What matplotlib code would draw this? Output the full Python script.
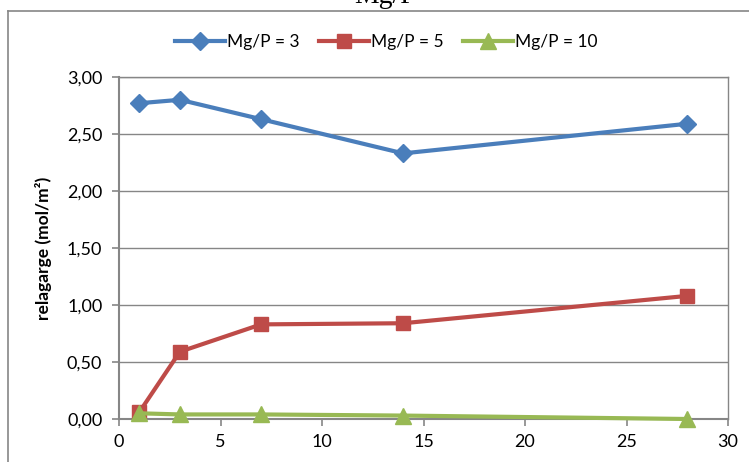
import matplotlib.pyplot as plt
from matplotlib.lines import Line2D
from matplotlib.ticker import FuncFormatter, MultipleLocator

# data
days = [1, 3, 7, 14, 28]
mgp3 = [2.77, 2.80, 2.63, 2.33, 2.59]
mgp5 = [0.06, 0.59, 0.83, 0.84, 1.08]
mgp10 = [0.05, 0.04, 0.04, 0.03, 0.00]
series_labels = ["Mg/P = 3", "Mg/P = 5", "Mg/P = 10"]

plt.rcParams["font.family"] = ["Lato", "DejaVu Sans"]

fig = plt.figure(figsize=(7.49, 4.62), dpi=100)
ax = fig.add_axes([119 / 749, 1 - 419 / 462, (728 - 119) / 749, (419 - 77) / 462])

styles = [
    (mgp3, "#4A7EBB", "D", 9),
    (mgp5, "#BE4B48", "s", 9.5),
    (mgp10, "#98B954", "^", 11),
]
for (values, color, marker, size), label in zip(styles, series_labels):
    ax.plot(days, values, color=color, marker=marker, markersize=size,
            linewidth=3, label=label, clip_on=False, zorder=3)

ax.set_xlim(0, 30)
ax.set_ylim(0, 3)
ax.xaxis.set_major_locator(MultipleLocator(5))
ax.yaxis.set_major_locator(MultipleLocator(0.5))
ax.yaxis.set_major_formatter(FuncFormatter(lambda v, _: f"{v:.2f}".replace(".", ",")))
ax.grid(axis="y", color="#868686", linewidth=1.0)
ax.set_axisbelow(True)

for side in ["left", "bottom"]:
    ax.spines[side].set_color("#868686")
    ax.spines[side].set_linewidth(1.5)
for side in ["top", "right"]:
    ax.spines[side].set_color("#868686")
    ax.spines[side].set_linewidth(1.0)
ax.tick_params(axis="both", direction="out", length=5, color="#868686",
               labelsize=13, labelcolor="black", width=1.2)
ax.tick_params(axis="y", pad=7)
ax.tick_params(axis="x", pad=6)

ax.set_ylabel("relagarge (mol/m²)", fontsize=12.5, fontweight="bold", labelpad=11)

ax.legend(loc="center", bbox_to_anchor=(386 / 749, 1 - 42 / 462),
          bbox_transform=fig.transFigure, ncol=3, frameon=False,
          fontsize=12.5, handlelength=2.9, columnspacing=1.1, handletextpad=0.1)

# outer chart border (cropped frame)
fig.add_artist(Line2D([7.5 / 749, 7.5 / 749], [0, 1 - 11 / 462],
                      transform=fig.transFigure, color="#868686", linewidth=1.2))
fig.add_artist(Line2D([7.5 / 749, 1], [1 - 11 / 462, 1 - 11 / 462],
                      transform=fig.transFigure, color="#868686", linewidth=1.2))

# title cut off at the top edge
fig.text(385 / 749, 1 - 3 / 462, "Mg/P", family="Liberation Serif", fontsize=20,
         ha="center", va="baseline")

fig.savefig("out.png", dpi=100)
